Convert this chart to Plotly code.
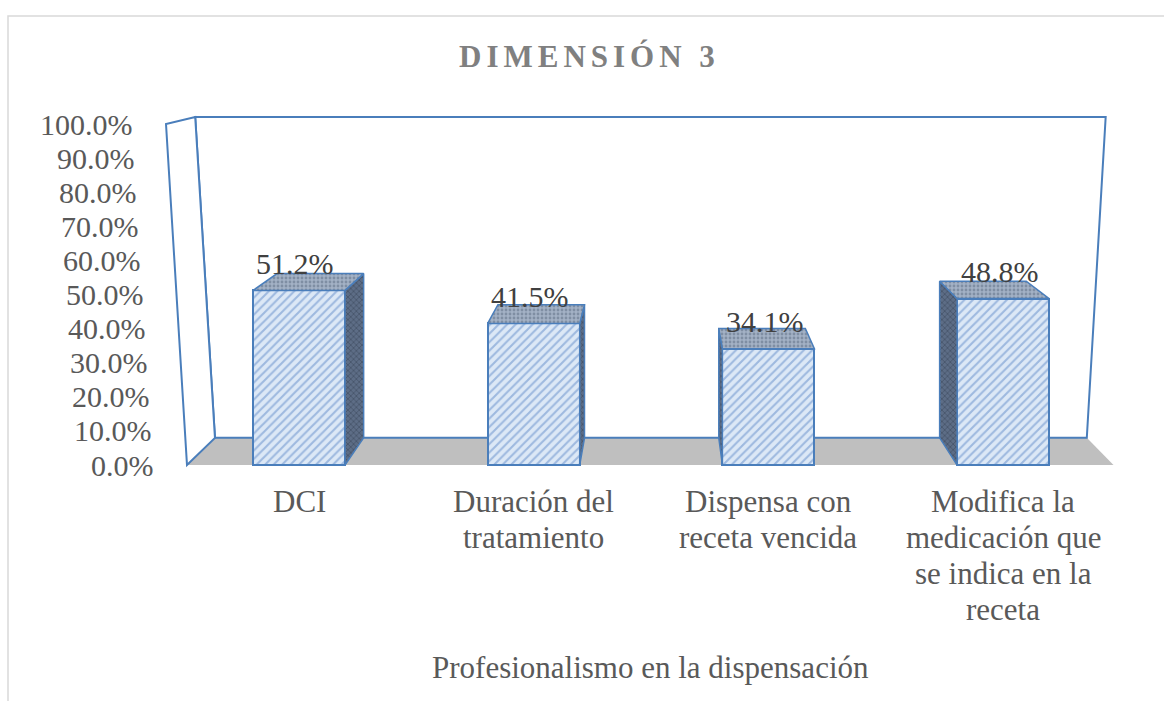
import plotly.graph_objects as go

# ---------------- data ----------------
categories = ["DCI",
              "Duración del\ntratamiento",
              "Dispensa con\nreceta vencida",
              "Modifica la\nmedicación que\nse indica en la\nreceta"]
values = [0.512, 0.415, 0.341, 0.488]
y_ticks = [0.0, 0.1, 0.2, 0.3, 0.4, 0.5, 0.6, 0.7, 0.8, 0.9, 1.0]
y_tick_labels = ["0.0%", "10.0%", "20.0%", "30.0%", "40.0%", "50.0%",
                 "60.0%", "70.0%", "80.0%", "90.0%", "100.0%"]
title_text = "DIMENSIÓN 3"
x_title = "Profesionalismo en la dispensación"

# ---------------- layout geometry ----------------
W, H = 1164, 701
X0PX, XSTEP = 299.0, 234.7     # pixel of category 0, pixels per category
Y0PX, YSCALE = 465.0, 341.0    # pixel of value 0, pixels per 1.0
FONT = "Liberation Serif"

def px2x(px):
    return (px - X0PX) / XSTEP

def py2y(py):
    return (Y0PX - py) / YSCALE

# pseudo-3D projection (in axis units)
VX, VY = px2x(661), py2y(5)
DEPTH = 0.941
SLANT = 0.0443
U_L, U_R = px2x(187) - VX, px2x(1113.5) - VX

def front(U, Y):
    return (VX + U * (1 + SLANT * Y), Y)

def back(pt, k=DEPTH):
    X, Y = pt
    return (VX + k * (X - VX), VY + k * (Y - VY))

def path(pts):
    return "M " + " L ".join(f"{x:.5f},{y:.5f}" for x, y in pts) + " Z"

WALL = "#4a7ebb"
shapes = []
# floor
fl = [front(U_L, 0), front(U_R, 0), back(front(U_R, 0)), back(front(U_L, 0))]
shapes.append(dict(type="path", path=path(fl), xref="x", yref="y", layer="below",
                   fillcolor="#bfbfbf", line=dict(width=0)))
# back wall
bw = [back(front(U_L, 0)), back(front(U_L, 1)), back(front(U_R, 1)), back(front(U_R, 0))]
shapes.append(dict(type="path", path=path(bw), xref="x", yref="y", layer="below",
                   fillcolor="white", line=dict(color=WALL, width=2)))
# left wall
lw = [front(U_L, 0), front(U_L, 1), back(front(U_L, 1)), back(front(U_L, 0))]
shapes.append(dict(type="path", path=path(lw), xref="x", yref="y", layer="below",
                   fillcolor="white", line=dict(color=WALL, width=2)))
# outer chart border
shapes.append(dict(type="rect", xref="paper", yref="paper", x0=8 / W, x1=1.2,
                   y0=-0.2, y1=1 - 16 / H, layer="below",
                   line=dict(color="#d9d9d9", width=1.5), fillcolor="rgba(0,0,0,0)"))

fig = go.Figure()

BAR_W = 0.392
xs = list(range(len(values)))
fig.add_trace(go.Bar(
    x=xs, y=values, width=BAR_W, hoverinfo="skip", showlegend=False,
    marker=dict(color="#dbe7f5", line=dict(color=WALL, width=2),
                pattern=dict(shape="/", fgcolor="#5f8ac8", bgcolor="#dce8f6",
                             size=6, solidity=0.35)),
))

# side and top faces, projected from each bar
for x, v in zip(xs, values):
    xl, xr = x - BAR_W / 2, x + BAR_W / 2
    xe = xr if x < VX else xl
    side = [(xe, 0), (xe, v), back((xe, v)), back((xe, 0)), (xe, 0)]
    fig.add_trace(go.Scatter(
        x=[p[0] for p in side], y=[p[1] for p in side], mode="lines",
        fill="toself", fillcolor="#56667f",
        fillpattern=dict(shape="x", fgcolor="#2c3748", bgcolor="#5d6d86",
                         size=4, solidity=0.35),
        line=dict(color=WALL, width=1.5), hoverinfo="skip", showlegend=False))
    top = [(xl, v), (xr, v), back((xr, v)), back((xl, v)), (xl, v)]
    fig.add_trace(go.Scatter(
        x=[p[0] for p in top], y=[p[1] for p in top], mode="lines",
        fill="toself", fillcolor="#8d9db4",
        fillpattern=dict(shape=".", fgcolor="#5c6b82", bgcolor="#a3b1c5",
                         size=4, solidity=0.4),
        line=dict(color=WALL, width=1.5), hoverinfo="skip", showlegend=False))

annotations = []
# y tick labels following the slanted left wall edge
for t, lab in zip(y_ticks, y_tick_labels):
    ex, _ = front(U_L, t)
    annotations.append(dict(x=ex - 31 / XSTEP, y=t, xref="x", yref="y",
                            text=lab, showarrow=False, xanchor="right",
                            yanchor="middle",
                            font=dict(family=FONT, size=30, color="#595959")))
# data labels
for x, v in zip(xs, values):
    annotations.append(dict(x=x - 0.015, y=v + 27 / YSCALE, xref="x", yref="y",
                            text=f"{v * 100:.1f}%", showarrow=False,
                            xanchor="center", yanchor="middle",
                            font=dict(family=FONT, size=30, color="#404040")))
# category labels (one annotation per line for exact line spacing)
for x, cat in zip(xs, categories):
    for k, line in enumerate(cat.split("\n")):
        annotations.append(dict(x=x, y=py2y(501 + 36 * k), xref="x", yref="y",
                                text=line, showarrow=False, xanchor="center",
                                yanchor="middle",
                                font=dict(family=FONT, size=31, color="#595959")))
# axis title
annotations.append(dict(x=650 / W, y=1 - 667 / H, xref="paper", yref="paper",
                        text=x_title, showarrow=False, xanchor="center",
                        yanchor="middle",
                        font=dict(family=FONT, size=31, color="#595959")))
# chart title (letter-spaced)
annotations.append(dict(x=589 / W, y=1 - 57 / H, xref="paper", yref="paper",
                        text=f'<b><span style="letter-spacing:5px">{title_text}</span></b>',
                        showarrow=False, xanchor="center", yanchor="middle",
                        font=dict(family=FONT, size=31, color="#808080")))

fig.update_layout(
    width=W, height=H, margin=dict(l=0, r=0, t=0, b=0),
    paper_bgcolor="white", plot_bgcolor="white",
    xaxis=dict(range=[px2x(0), px2x(W)], visible=False, fixedrange=True),
    yaxis=dict(range=[py2y(H), py2y(0)], visible=False, fixedrange=True),
    shapes=shapes, annotations=annotations, showlegend=False,
    bargap=0,
)

fig.write_html("out.html", config={"displayModeBar": False},
               post_script="document.body.style.margin='0';document.body.style.overflow='hidden';")
